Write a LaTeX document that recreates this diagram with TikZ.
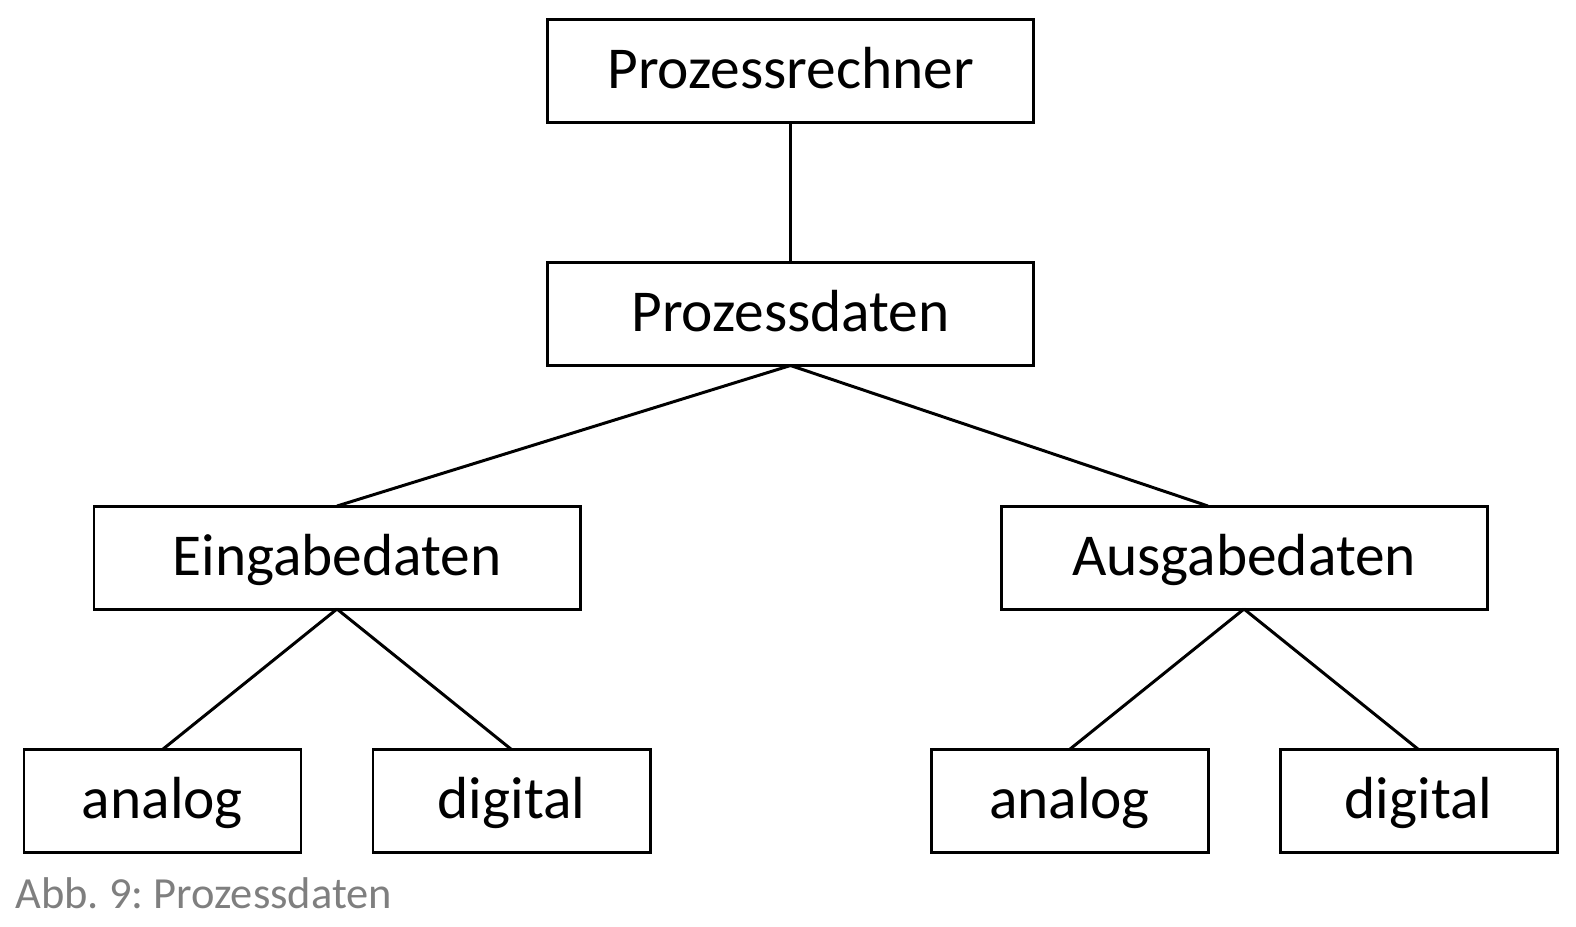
\documentclass[tikz,border=0pt]{standalone}
\usepackage{fontspec}
\setmainfont{Carlito}
\usepackage{tikz}
\usetikzlibrary{positioning}
\definecolor{captiongray}{RGB}{127,127,127}
\tikzset{block/.style={draw,line width=1.7pt,outer sep=0pt,minimum width=9.72cm,minimum height=2.06cm,font=\fontsize{33.8}{40}\selectfont,text height=20pt,text depth=0pt}}
\tikzset{leaf/.style={block,minimum width=5.54cm}}

\begin{document}
\begin{tikzpicture}[line width=1.7pt]
    \useasboundingbox (0,0) rectangle (31.52,-18.52);

      \node[block] (rech) at (15.81,-1.41) {Prozessrechner};
      \node[block, below=2.81cm of rech] (daten) {Prozessdaten};

      \node[block, below=2.81cm of daten, xshift=-9.07cm] (ein) {Eingabedaten};
      \node[block, below=2.81cm of daten, xshift=9.07cm] (aus) {Ausgabedaten};

      \node[leaf, below=2.81cm of ein, xshift=-3.49cm] (ein-a) {analog};
      \node[leaf, below=2.81cm of ein, xshift=3.49cm] (ein-d) {digital};
      \node[leaf, below=2.81cm of aus, xshift=-3.49cm] (aus-a) {analog};
      \node[leaf, below=2.81cm of aus, xshift=3.49cm] (aus-d) {digital};

      \coordinate (aus-in) at ([xshift=-0.72cm]aus.north);

      \node[anchor=base west, inner sep=0pt, text=captiongray,
        font=\fontsize{25.3}{30}\selectfont\frenchspacing] (cap) at (0.28,-18.16) {Abb. 9: Prozessdaten};

      \draw (rech) -- (daten);
      \draw (daten.south) -- (ein.north);
      \draw (daten.south) -- (aus-in);

      \draw (ein.south) -- (ein-a.north);
      \draw (ein.south) -- (ein-d.north);
      \draw (aus.south) -- (aus-a.north);
      \draw (aus.south) -- (aus-d.north);
  \end{tikzpicture}
\end{document}
